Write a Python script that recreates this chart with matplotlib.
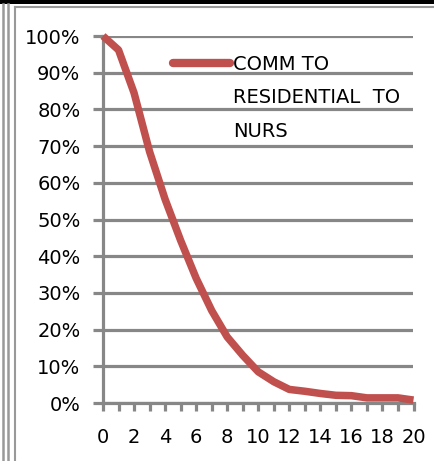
import matplotlib
matplotlib.use("Agg")
import matplotlib.pyplot as plt
from matplotlib.ticker import PercentFormatter, FixedLocator
from matplotlib.lines import Line2D
from matplotlib.patches import Rectangle

# Share of cases remaining over time (0..20)
steps = list(range(0, 21))
share = [1.000, 0.962, 0.845, 0.685, 0.555, 0.443, 0.340, 0.252, 0.180, 0.130,
         0.085, 0.058, 0.037, 0.032, 0.026, 0.021, 0.020, 0.014, 0.014, 0.014, 0.008]
series_name = "COMM TO\nRESIDENTIAL  TO\nNURS"
x_labels = [0, 2, 4, 6, 8, 10, 12, 14, 16, 18, 20]
y_ticks = [i / 10 for i in range(11)]

W, H = 435, 461
fig = plt.figure(figsize=(W / 100, H / 100), dpi=100)
fig.patch.set_facecolor("white")

grid_col = "#878787"
red = "#C0504D"
fsize = 14

ax = fig.add_axes([103 / W, 1 - 403 / H, 310.5 / W, 367 / H])
ax.plot(steps, share, color=red, lw=5.4, solid_joinstyle="round",
        solid_capstyle="butt", clip_on=False, zorder=5)

ax.set_xlim(0, 20)
ax.set_ylim(0, 1)
ax.yaxis.set_major_locator(FixedLocator(y_ticks))
ax.yaxis.set_major_formatter(PercentFormatter(1.0, decimals=0))
ax.set_xticks(steps)
ax.set_xticklabels([str(s) if s in x_labels else "" for s in steps])

ax.grid(axis="y", color=grid_col, lw=2.3)
ax.set_axisbelow(True)
for side in ("top", "right"):
    ax.spines[side].set_visible(False)
for side in ("left", "bottom"):
    ax.spines[side].set_color(grid_col)
    ax.spines[side].set_linewidth(2.3)

ax.tick_params(axis="y", direction="out", length=7.2, width=2.3, color=grid_col,
               pad=9, labelsize=fsize, labelcolor="black")
ax.tick_params(axis="x", direction="out", length=6, width=2.3, color=grid_col,
               pad=12, labelsize=fsize, labelcolor="black")

# legend: swatch + wrapped series name
ax.plot([0.2254, 0.409], [0.926, 0.926], transform=ax.transAxes, color=red,
        lw=6, solid_capstyle="round", clip_on=False, zorder=6)
ax.text(0.4187, 0.948, series_name, transform=ax.transAxes, fontsize=fsize,
        va="top", ha="left", linespacing=1.95, color="black", zorder=6)

# outer frame decoration
fig.add_artist(Rectangle((0, 1 - 4.5 / H), 1, 4.5 / H, transform=fig.transFigure,
                         facecolor="black", edgecolor="none"))
for xp in (3.2, 8.5):
    fig.add_artist(Line2D([xp / W, xp / W], [0, 1 - 4.5 / H], transform=fig.transFigure,
                          color="#999999", lw=1.8))
fig.add_artist(Line2D([15.5 / W, 15.5 / W], [0, 1 - 7.5 / H], transform=fig.transFigure,
                      color="#999999", lw=1.5))
fig.add_artist(Line2D([15.5 / W, 1], [1 - 7.5 / H, 1 - 7.5 / H], transform=fig.transFigure,
                      color="#999999", lw=1.5))

fig.savefig("out.png", dpi=100, facecolor="white")
